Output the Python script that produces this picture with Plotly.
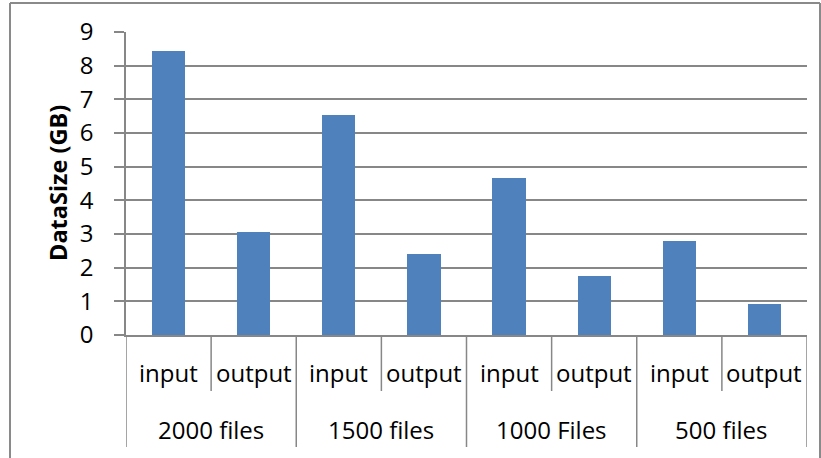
import plotly.graph_objects as go

# Data sizes (GB) per file batch
groups = ["2000 files", "1500 files", "1000 Files", "500 files"]
kinds = ["input", "output"]
input_gb = [8.43, 6.54, 4.67, 2.80]
output_gb = [3.07, 2.41, 1.75, 0.93]
y_ticks = [0, 1, 2, 3, 4, 5, 6, 7, 8, 9]

W, H = 821, 458
ML, MR, MT, MB = 126, 14, 32, 123
PW, PH = W - ML - MR, H - MT - MB
FONT = "Open Sans"
GRID = "#878787"
BLUE = "#4F81BD"


def py(pix):
    """Pixel row -> paper y."""
    return (H - MB - pix) / PH


def px(pix):
    """Pixel column -> paper x."""
    return (pix - ML) / PW


xs, ys = [], []
for g in range(len(groups)):
    for k, vals in enumerate([input_gb, output_gb]):
        xs.append(g * len(kinds) + k)
        ys.append(vals[g])

fig = go.Figure(go.Bar(x=xs, y=ys, width=0.39, marker=dict(color=BLUE, line=dict(width=0))))

shapes = []
annotations = []
n = len(groups) * len(kinds)
# category separators below the baseline
for i in range(n + 1):
    xpos = i - 0.5
    bottom = 447 if i % len(kinds) == 0 else 391
    shapes.append(dict(type="line", xref="x", yref="paper", x0=xpos, x1=xpos,
                       y0=0, y1=py(bottom), line=dict(color=GRID, width=1.5)))
# inner labels
for i in range(n):
    annotations.append(dict(text=kinds[i % len(kinds)], xref="x", yref="paper", x=i, y=py(372),
                            showarrow=False, yanchor="middle", font=dict(family=FONT, size=24, color="black")))
# group labels
for g, name in enumerate(groups):
    annotations.append(dict(text=name, xref="x", yref="paper", x=g * len(kinds) + 0.5, y=py(429),
                            showarrow=False, yanchor="middle", font=dict(family=FONT, size=24, color="black")))
# y axis title
annotations.append(dict(text="<b>DataSize (GB)</b>", xref="paper", yref="paper", x=px(58), y=py(183),
                        textangle=-90, showarrow=False, xanchor="center", yanchor="middle",
                        font=dict(family=FONT, size=23.5, color="black")))
# chart frame
for x0, y0, x1, y1 in [(10, 3, 820, 3), (10, 3, 10, 458), (820, 3, 820, 458)]:
    shapes.append(dict(type="line", xref="paper", yref="paper", x0=px(x0), x1=px(x1), y0=py(y0), y1=py(y1),
                       line=dict(color="#8a8a8a", width=2)))

fig.update_layout(
    width=W, height=H,
    margin=dict(l=ML, r=MR, t=MT, b=MB, autoexpand=False),
    paper_bgcolor="white", plot_bgcolor="white",
    showlegend=False,
    bargap=0,
    shapes=shapes,
    annotations=annotations,
    font=dict(family=FONT, color="black"),
    xaxis=dict(range=[-0.5, n - 0.5], showticklabels=False, showgrid=False, zeroline=False,
               showline=True, linecolor=GRID, linewidth=1.5, ticks=""),
    yaxis=dict(range=[0, 9], tickvals=y_ticks, showgrid=True, gridcolor=GRID, gridwidth=1.5,
               zeroline=False, showline=True, linecolor=GRID, linewidth=1.5,
               ticks="outside", ticklen=10, tickcolor=GRID, tickwidth=1.5,
               ticklabelstandoff=16, tickfont=dict(family=FONT, size=24, color="black")),
)

fig.write_html("out.html")
